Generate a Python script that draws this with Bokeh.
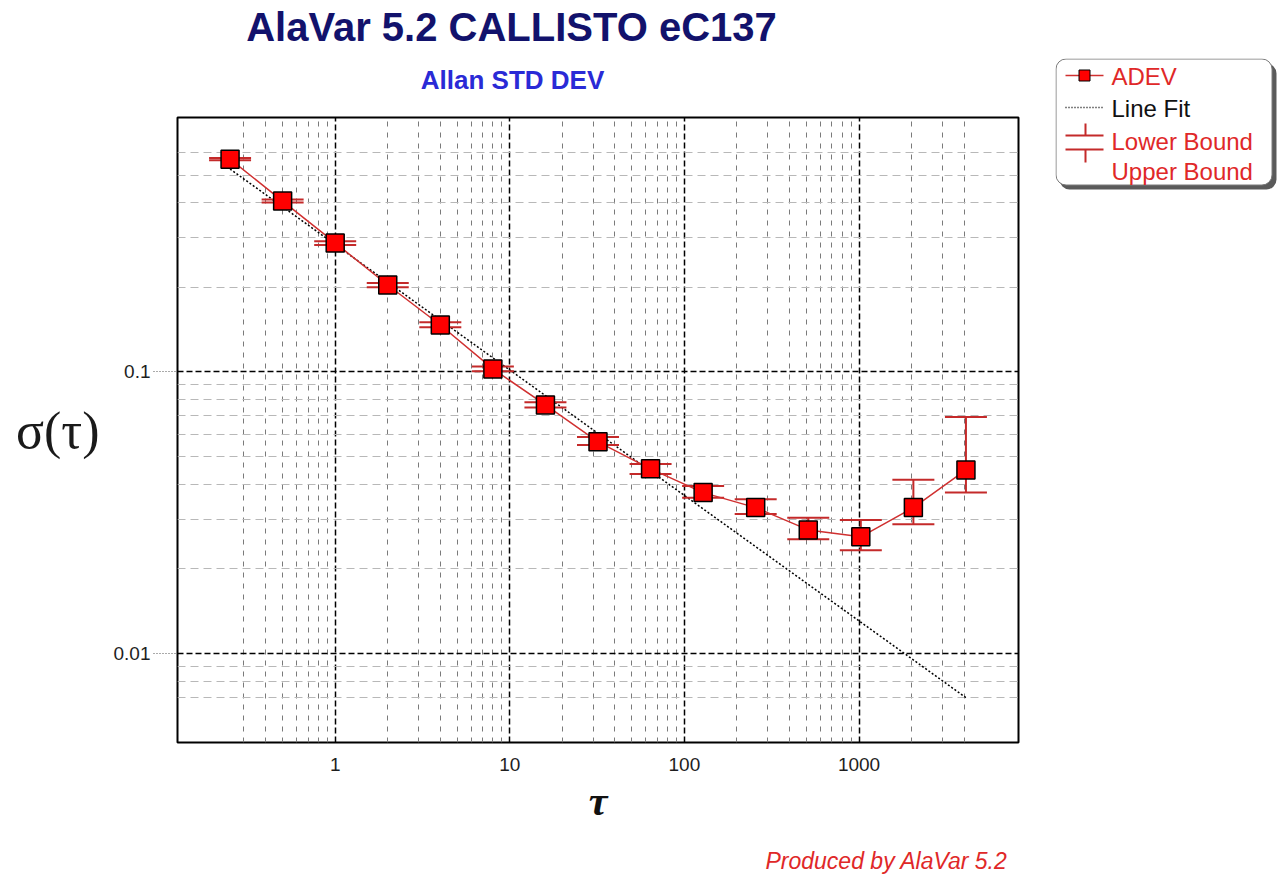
from bokeh.plotting import figure
from bokeh.models import Range1d, FixedTicker, CustomJSTickFormatter, Spacer
from bokeh.layouts import row, column
from bokeh.embed import file_html
from bokeh.resources import INLINE
from bokeh.core.properties import value

# ---- data ----
tau = [0.25, 0.5, 1, 2, 4, 8, 16, 32, 64, 128, 256, 512, 1024, 2048, 4096]
adev = [0.569, 0.404, 0.287, 0.2035, 0.1468, 0.1025, 0.0764, 0.0565, 0.0453,
        0.0373, 0.0330, 0.0275, 0.0260, 0.0330, 0.0449]
lower_bound = [0.564, 0.399, 0.282, 0.200, 0.144, 0.1005, 0.0748, 0.0550, 0.0434,
               0.0358, 0.0313, 0.0255, 0.0233, 0.0288, 0.0373]
upper_bound = [0.575, 0.409, 0.291, 0.207, 0.150, 0.1045, 0.0780, 0.0588, 0.0471,
               0.0394, 0.0353, 0.0304, 0.0298, 0.0414, 0.0692]
fit_tau = [0.25, 4096]
fit_sigma = [0.525, 0.00698]

x_major = [1, 10, 100, 1000]
x_minor = [0.3, 0.4, 0.5, 0.6, 0.7, 0.8, 0.9,
           2, 3, 4, 5, 6, 7, 8, 9,
           20, 30, 40, 50, 60, 70, 80, 90,
           200, 300, 400, 500, 600, 700, 800, 900,
           2000, 3000, 4000]
y_major = [0.01, 0.1]
y_minor = [0.007, 0.008, 0.009,
           0.02, 0.03, 0.04, 0.05, 0.06, 0.07, 0.08, 0.09,
           0.2, 0.3, 0.4, 0.5, 0.6]

title_text = "AlaVar 5.2 CALLISTO eC137"
subtitle_text = "Allan STD DEV"
credit_text = "Produced by AlaVar 5.2"
legend_labels = ["ADEV", "Line Fit", "Lower Bound", "Upper Bound"]

SANS = "Liberation Sans"
SERIF = "Liberation Serif"
RED_DARK = "#c42a2a"
W = 1055
FRAME_L, FRAME_R = 177, 1018


def blank(width, height, x0=0, x1=None):
    if x1 is None:
        x1 = width
    f = figure(width=width, height=height, x_range=Range1d(x0, x1), y_range=Range1d(height, 0),
               output_backend="svg", toolbar_location=None, min_border=0, title=None,
               x_axis_location=None, y_axis_location=None, margin=(0, 0, 0, 0))
    f.grid.visible = False
    f.outline_line_color = None
    f.background_fill_color = "white"
    f.border_fill_color = "white"
    return f


# ---- title strip (its frame is aligned with the main frame) ----
top = blank(W, 116, FRAME_L, FRAME_R)
top.text(x=[511], y=[26], text=[title_text], text_align="center", text_baseline="middle",
         text_font=value(SANS), text_font_size="40px", text_font_style="bold", text_color="#12126c")
top.text(x=[512], y=[79], text=[subtitle_text], text_align="center", text_baseline="middle",
         text_font=value(SANS), text_font_size="26px", text_font_style="bold", text_color="#2a2ad6")

# ---- main plot ----
p = figure(width=W, height=730, x_axis_type="log", y_axis_type="log",
           x_range=Range1d(0.125, 8192), y_range=Range1d(0.00484, 0.8),
           output_backend="svg", toolbar_location=None, title=None,
           min_border_left=FRAME_L, min_border_right=W - FRAME_R, min_border_top=1,
           min_border_bottom=104, margin=(0, 0, 0, 0))
p.background_fill_color = "white"
p.border_fill_color = "white"
p.outline_line_color = "black"
p.outline_line_width = 2

p.xgrid.ticker = FixedTicker(ticks=x_major, minor_ticks=x_minor)
p.ygrid.ticker = FixedTicker(ticks=y_major, minor_ticks=y_minor)
for g in (p.xgrid, p.ygrid):
    g.grid_line_color = "black"
    g.grid_line_dash = "6 3"
    g.grid_line_width = 1.5
p.xgrid.minor_grid_line_color = "#7a7a7a"
p.xgrid.minor_grid_line_dash = "5 6"
p.xgrid.minor_grid_line_width = 1
p.ygrid.minor_grid_line_color = "#b8b8b8"
p.ygrid.minor_grid_line_dash = "8 5"
p.ygrid.minor_grid_line_width = 1

fmt = CustomJSTickFormatter(code="return tick.toString();")
p.xaxis.ticker = FixedTicker(ticks=x_major)
p.yaxis.ticker = FixedTicker(ticks=y_major)
p.xaxis.formatter = fmt
p.yaxis.formatter = fmt
for ax in (p.xaxis, p.yaxis):
    ax.axis_line_color = None
    ax.minor_tick_line_color = None
    ax.major_label_text_font = SANS
    ax.major_label_text_font_size = "19px"
    ax.major_label_text_color = "#1e1e1e"
p.xaxis.major_tick_line_color = None
p.xaxis.major_tick_out = 0
p.xaxis.major_tick_in = 0
p.xaxis.major_label_standoff = 15
p.yaxis.major_tick_line_color = "#555555"
p.yaxis.major_tick_line_dash = "1 2"
p.yaxis.major_tick_line_width = 1
p.yaxis.major_tick_out = 24
p.yaxis.major_tick_in = 0
p.yaxis.major_label_standoff = 3

p.yaxis.axis_label = "σ(τ)"
p.yaxis.axis_label_orientation = "horizontal"
p.yaxis.axis_label_text_font = SERIF
p.yaxis.axis_label_text_font_size = "52px"
p.yaxis.axis_label_text_font_style = "normal"
p.yaxis.axis_label_text_color = "#1a1a1a"
p.yaxis.axis_label_standoff = 11

p.xaxis.axis_label = "τ"
p.xaxis.axis_label_text_font = SERIF
p.xaxis.axis_label_text_font_size = "42px"
p.xaxis.axis_label_text_font_style = "bold italic"
p.xaxis.axis_label_text_color = "#111111"
p.xaxis.axis_label_standoff = 4

p.line(fit_tau, fit_sigma, line_color="black", line_dash="2 2", line_width=1.5)
p.segment(x0=tau, y0=lower_bound, x1=tau, y1=upper_bound, line_color=RED_DARK, line_width=2)
p.scatter(tau, lower_bound, marker="dash", size=42, line_color=RED_DARK, line_width=2)
p.scatter(tau, upper_bound, marker="dash", size=42, line_color=RED_DARK, line_width=2)
p.line(tau, adev, line_color="#d03030", line_width=1.5)
p.scatter(tau, adev, marker="square", size=18, fill_color="#ff0000",
          line_color="black", line_width=1.5)

# ---- credit strip ----
bottom = blank(W, 28, FRAME_L, FRAME_R)
bottom.text(x=[765], y=[14], text=[credit_text], text_align="left", text_baseline="middle",
            text_font=value(SANS), text_font_size="23px", text_font_style="italic",
            text_color="#e02828")

# ---- legend ----
leg = blank(222, 132)
leg.quad(left=[4], right=[221], top=[5], bottom=[131], fill_color="#5a5a5a",
         line_color=None, border_radius=10)
leg.quad(left=[0.5], right=[216.5], top=[0.5], bottom=[126.5], fill_color="white",
         line_color="#7a7a7a", line_width=1, border_radius=10)
leg.line([10, 48], [17, 17], line_color="#d03030", line_width=1.5)
leg.scatter([29], [17], marker="square", size=11, fill_color="#ff0000",
            line_color="black", line_width=1)
leg.line([10, 48], [49, 49], line_color="black", line_dash="1 2", line_width=1.5)
leg.segment(x0=[30, 10, 10, 30], y0=[65, 77, 91, 91], x1=[30, 48, 48, 30], y1=[77, 77, 91, 104],
            line_color=RED_DARK, line_width=2)
leg.text(x=[56, 56, 56, 56], y=[18, 50, 83, 113], text=legend_labels,
         text_color=["#e02828", "#111111", "#e02828", "#e02828"],
         text_font=value(SANS), text_font_size="24px", text_baseline="middle")

left_col = column(top, p, bottom, spacing=0, margin=(0, 0, 0, 0))
right_col = column(Spacer(width=222, height=58, margin=(0, 0, 0, 0)), leg,
                   spacing=0, margin=(0, 0, 0, 0))
layout = row(left_col, right_col, spacing=0, margin=(0, 0, 0, 0))
open("out.html", "w").write(file_html(layout, INLINE))
